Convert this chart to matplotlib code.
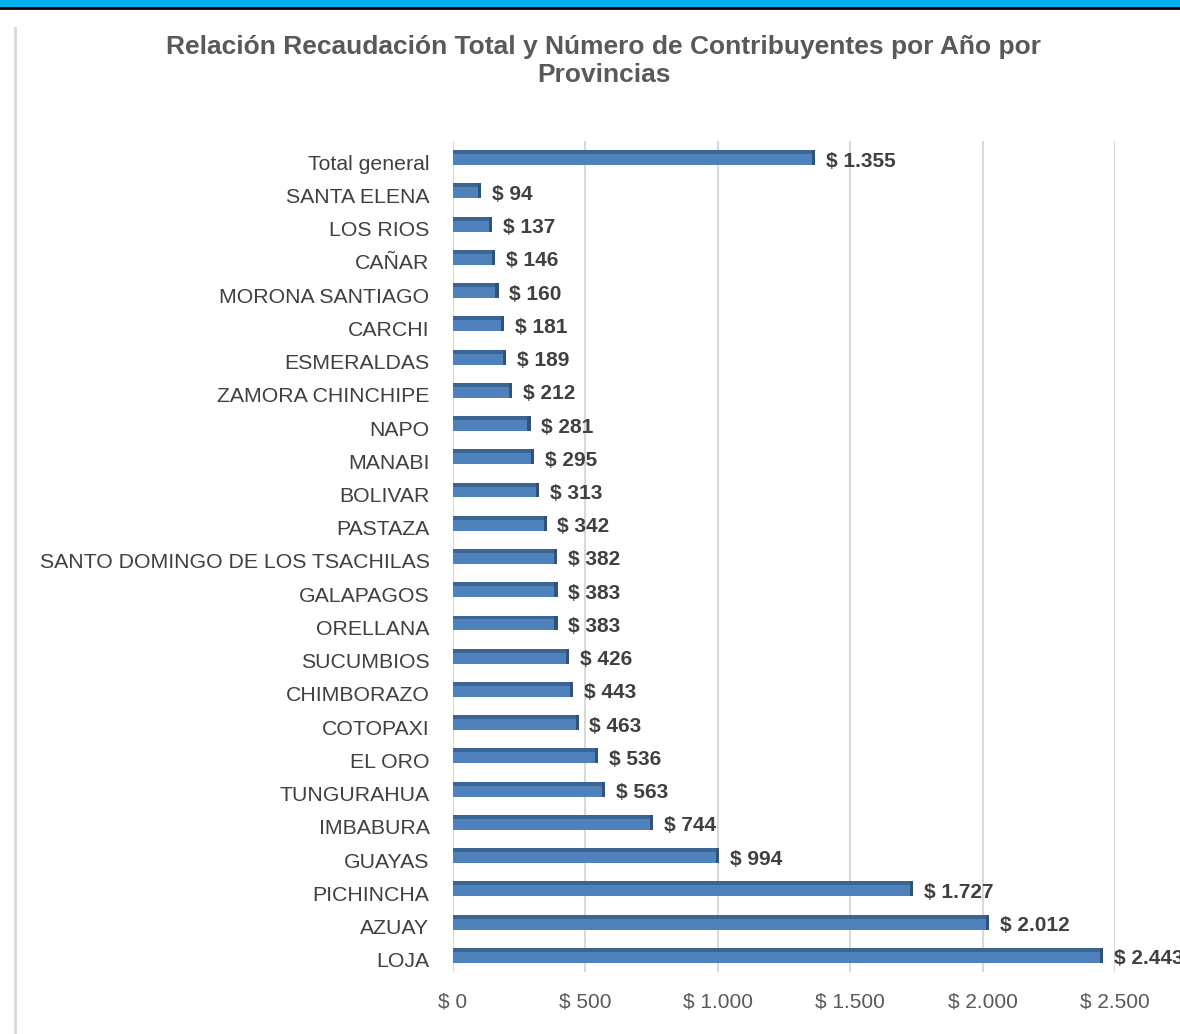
import numpy as np
import matplotlib.pyplot as plt
from matplotlib.patches import Rectangle
from matplotlib.lines import Line2D
from matplotlib.transforms import ScaledTranslation

plt.rcParams['font.family'] = ['Liberation Sans', 'DejaVu Sans']

provincias = ['Total general', 'SANTA ELENA', 'LOS RIOS', 'CAÑAR', 'MORONA SANTIAGO',
              'CARCHI', 'ESMERALDAS', 'ZAMORA CHINCHIPE', 'NAPO', 'MANABI', 'BOLIVAR',
              'PASTAZA', 'SANTO DOMINGO DE LOS TSACHILAS', 'GALAPAGOS', 'ORELLANA',
              'SUCUMBIOS', 'CHIMBORAZO', 'COTOPAXI', 'EL ORO', 'TUNGURAHUA', 'IMBABURA',
              'GUAYAS', 'PICHINCHA', 'AZUAY', 'LOJA']
recaudacion = [1355, 94, 137, 146, 160, 181, 189, 212, 281, 295, 313, 342, 382, 383, 383,
               426, 443, 463, 536, 563, 744, 994, 1727, 2012, 2443]
ticks = [0, 500, 1000, 1500, 2000, 2500]


def fmt(v):
    return '$ ' + '{:,.0f}'.format(v).replace(',', '.')


fig = plt.figure(figsize=(11.8, 10.34), dpi=100)

# header strip and left frame line
fig.patches.append(Rectangle((0, 1 - 7 / 1034), 1, 7 / 1034, transform=fig.transFigure,
                             color='#00B0F0', zorder=0))
fig.lines.append(Line2D([0, 1], [1 - 8 / 1034] * 2, transform=fig.transFigure,
                        color='black', lw=2))
fig.lines.append(Line2D([15 / 1180] * 2, [0, 1 - 28 / 1034], transform=fig.transFigure,
                        color='#D9D9D9', lw=2))

ax = fig.add_axes([453 / 1180, 62 / 1034, 662 / 1180, 831 / 1034])

y = np.arange(len(provincias))
h = 0.45
ax.barh(y, recaudacion, height=h, color='#4F81BD', zorder=3)
# 3D look: darker top and right faces
ax.barh(y - h / 2 + 0.06, recaudacion, height=0.12, color='#3B6594', zorder=4)
ax.barh(y, [12] * len(y), left=recaudacion, height=h, color='#2F5380', zorder=4)

# the last label runs past the right edge, as in the original
for yi, v in zip(y, recaudacion):
    ax.annotate(fmt(v), (v, yi), xytext=(10, -2.5), textcoords='offset points',
                va='center', ha='left', fontsize=15, fontweight='bold',
                color='#404040', annotation_clip=False)

ax.set_ylim(len(provincias) - 0.5, -0.5)
ax.set_xlim(0, 2500)
ax.set_yticks(y)
ax.set_yticklabels(provincias, fontsize=15.3, color='#404040')
ax.set_xticks(ticks)
ax.set_xticklabels([fmt(t) for t in ticks], fontsize=15, color='#595959')
ax.tick_params(axis='y', length=0, pad=17)
ax.tick_params(axis='x', length=0, pad=15)
shift = ScaledTranslation(0, -0.045, fig.dpi_scale_trans)
for lab in ax.get_yticklabels():
    lab.set_transform(lab.get_transform() + shift)
ax.grid(axis='x', color='#D9D9D9', lw=1.5, zorder=0)
for s in ax.spines.values():
    s.set_visible(False)

fig.text(604 / 1180, 1 - 61 / 1034,
         'Relación Recaudación Total y Número de Contribuyentes por Año por\nProvincias',
         ha='center', va='center', fontsize=19, fontweight='bold', color='#595959',
         linespacing=1.25)

fig.savefig('out.png', dpi=100)
